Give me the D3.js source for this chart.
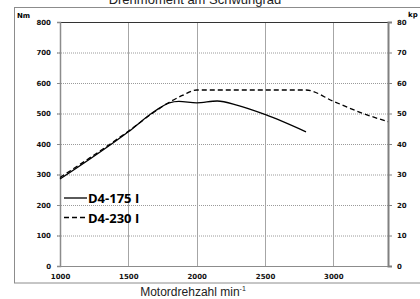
<!DOCTYPE html>
<html>
<head>
<meta charset="utf-8">
<script src="https://cdn.jsdelivr.net/npm/d3@7"></script>
<style>
  body { margin: 0; background: #fff; }
  svg { display: block; }
</style>
</head>
<body>
<svg id="chart"></svg>
<script>
// data
var rpm175 = [1000, 1500, 1700, 1800, 1870, 2000, 2150, 2300, 2500, 2800];
var nm175  = [285, 440, 510, 535, 540, 535, 541, 527, 497, 440];
var rpm230 = [1000, 1500, 1700, 1800, 1900, 2000, 2800, 3000, 3200, 3400];
var nm230  = [290, 442, 508, 537, 560, 577, 577, 540, 503, 473];
var xTicks = [1000, 1500, 2000, 2500, 3000];
var nmTicks = [0, 100, 200, 300, 400, 500, 600, 700, 800];
var kpTicks = [0, 10, 20, 30, 40, 50, 60, 70, 80];
var seriesNames = ["D4-175 I", "D4-230 I"];

var width = 420, height = 299;
var svg = d3.select("#chart").attr("width", width).attr("height", height);

var x = d3.scaleLinear().domain([1000, 3400]).range([60, 388]);
var y = d3.scaleLinear().domain([0, 800]).range([266, 22]);
var yKp = d3.scaleLinear().domain([0, 80]).range([266, 22]);

// outer frame
svg.append("rect")
  .attr("x", 14.5).attr("y", 7.5)
  .attr("width", 420).attr("height", 275.5)
  .attr("fill", "none").attr("stroke", "#8c8c8c").attr("stroke-width", 1);

// title (cut off at top, as in the source)
svg.append("text")
  .attr("x", 195).attr("y", 4)
  .attr("text-anchor", "middle")
  .attr("font-family", "Liberation Sans, Arial, sans-serif")
  .attr("font-size", 13)
  .attr("fill", "#222")
  .text("Drehmoment am Schwungrad");

// horizontal dotted gridlines
svg.append("g").selectAll("line")
  .data(nmTicks.filter(function(d) { return d > 0 && d < 800; }))
.enter().append("line")
  .attr("x1", x(1000) - 3).attr("x2", x(3400))
  .attr("y1", function(d) { return y(d) + 0.5; })
  .attr("y2", function(d) { return y(d) + 0.5; })
  .attr("stroke", "#9a9a9a").attr("stroke-width", 1)
  .attr("stroke-dasharray", "1,1");

// vertical gridlines
svg.append("g").selectAll("line")
  .data(xTicks.filter(function(d) { return d > 1000; }))
.enter().append("line")
  .attr("x1", function(d) { return Math.round(x(d)) + 0.5; })
  .attr("x2", function(d) { return Math.round(x(d)) + 0.5; })
  .attr("y1", y(800)).attr("y2", y(0))
  .attr("stroke", "#a6a6a6").attr("stroke-width", 1);

// top line
svg.append("line")
  .attr("x1", x(1000) - 3).attr("x2", x(3400))
  .attr("y1", y(800) + 0.5).attr("y2", y(800) + 0.5)
  .attr("stroke", "#333").attr("stroke-width", 1.2);

// bottom axis line
svg.append("line")
  .attr("x1", x(1000) - 3).attr("x2", x(3400))
  .attr("y1", y(0) + 0.5).attr("y2", y(0) + 0.5)
  .attr("stroke", "#8c8c8c").attr("stroke-width", 1.2);

// left axis
var leftAxis = svg.append("g")
  .attr("transform", "translate(" + x(1000) + ",0)")
  .call(d3.axisLeft(y).tickValues(nmTicks).tickSize(3).tickPadding(6).tickFormat(d3.format("d")));
leftAxis.select(".domain").attr("stroke", "#8c8c8c").attr("stroke-width", 1.5);
leftAxis.selectAll(".tick line").attr("stroke", "#8c8c8c");

// right axis
var rightAxis = svg.append("g")
  .attr("transform", "translate(" + x(3400) + ",0)")
  .call(d3.axisRight(yKp).tickValues(kpTicks).tickSize(4).tickPadding(5).tickFormat(d3.format("d")));
rightAxis.select(".domain").attr("stroke", "#808080").attr("stroke-width", 2);
rightAxis.selectAll(".tick line").attr("stroke", "#808080");

// bottom tick labels
var bottomAxis = svg.append("g")
  .attr("transform", "translate(0," + y(0) + ")")
  .call(d3.axisBottom(x).tickValues(xTicks).tickSize(0).tickPadding(8).tickFormat(d3.format("d")));
bottomAxis.select(".domain").remove();

svg.selectAll(".tick text")
  .attr("font-family", "DejaVu Sans, sans-serif")
  .attr("font-size", 7)
  .attr("font-weight", "bold")
  .attr("fill", "#111");

// unit labels
svg.append("text")
  .attr("x", 17).attr("y", 18)
  .attr("font-family", "DejaVu Sans, sans-serif")
  .attr("font-size", 7).attr("font-weight", "bold")
  .text("Nm");
svg.append("text")
  .attr("x", 408).attr("y", 17)
  .attr("font-family", "DejaVu Sans, sans-serif")
  .attr("font-size", 7).attr("font-weight", "bold")
  .text("kp m");

// x axis title
var xt = svg.append("text")
  .attr("x", 193).attr("y", 296)
  .attr("text-anchor", "middle")
  .attr("font-family", "Liberation Sans, Arial, sans-serif")
  .attr("font-size", 12)
  .attr("fill", "#222");
xt.append("tspan").text("Motordrehzahl min");
xt.append("tspan").attr("font-size", 7).attr("dy", -5).text("-1");

// lines
var line = d3.line()
  .x(function(d) { return x(d[0]); })
  .y(function(d) { return y(d[1]); })
  .curve(d3.curveMonotoneX);

var data175 = d3.zip(rpm175, nm175);
var data230 = d3.zip(rpm230, nm230);

svg.append("path")
  .datum(data230)
  .attr("d", line)
  .attr("fill", "none")
  .attr("stroke", "#000").attr("stroke-width", 1.3)
  .attr("stroke-dasharray", "5,3");

svg.append("path")
  .datum(data175)
  .attr("d", line)
  .attr("fill", "none")
  .attr("stroke", "#000").attr("stroke-width", 1.3);

// legend
var legend = svg.append("g").selectAll("g")
  .data(seriesNames)
.enter().append("g")
  .attr("transform", function(d, i) { return "translate(64," + (198 + i * 19.5) + ")"; });

legend.append("line")
  .attr("x1", 0).attr("x2", 23)
  .attr("y1", 0).attr("y2", 0)
  .attr("stroke", "#000").attr("stroke-width", 1.3)
  .attr("stroke-dasharray", function(d, i) { return i ? "5,3" : null; });

legend.append("text")
  .attr("x", 24).attr("y", 5)
  .attr("font-family", "Open Sans, sans-serif")
  .attr("font-size", 13).attr("font-weight", "bold")
  .attr("fill", "#000")
  .text(function(d) { return d; });
</script>
</body>
</html>
